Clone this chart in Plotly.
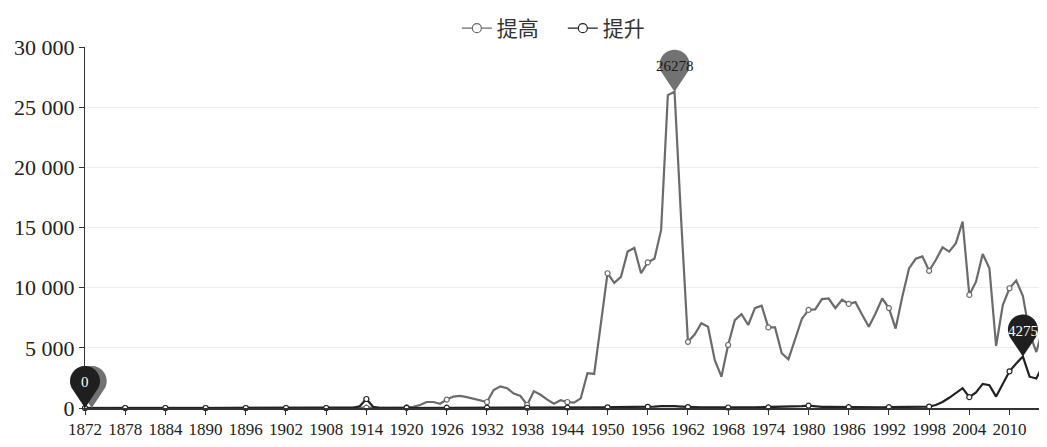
import numpy as np
import plotly.graph_objects as go

years = list(range(1872, 2016))

# 提高 (gray series)
tigao = [
    3, 0, 0, 0, 0, 0, 0, 0,                                  # 1872-1879
    0, 0, 0, 0, 0, 0, 0, 0, 0, 0,                            # 1880-1889
    0, 0, 0, 0, 0, 0, 0, 0, 0, 0,                            # 1890-1899
    0, 0, 0, 0, 0, 5, 0, 0, 0, 0,                            # 1900-1909
    10, 0, 5, 10, 30, 20, 10, 20, 30, 40,                    # 1910-1919
    50, 100, 250, 500, 500, 350, 700, 950, 1000, 900,        # 1920-1929
    750, 650, 500, 1500, 1800, 1650, 1200, 1000, 250, 1400,  # 1930-1939
    1100, 700, 350, 650, 500, 450, 800, 2900, 2830, 7000,    # 1940-1949
    11200, 10400, 10900, 13000, 13300, 11200, 12100, 12400, 14800, 26000,  # 1950-1959
    26278, 15500, 5500, 6100, 7050, 6750, 4000, 2600, 5240, 7300,          # 1960-1969
    7800, 6900, 8300, 8500, 6700, 6700, 4550, 4050, 5650, 7400,            # 1970-1979
    8150, 8200, 9050, 9100, 8300, 9000, 8650, 8800, 7750, 6750,            # 1980-1989
    7850, 9100, 8300, 6600, 9250, 11600, 12400, 12600, 11400, 12300,       # 1990-1999
    13350, 13000, 13700, 15500, 9400, 10500, 12800, 11600, 5150, 8550,     # 2000-2009
    9950, 10600, 9300, 6200, 4650, 6650,                                   # 2010-2015
]

# 提升 (dark series)
tisheng = [
    0, 0, 0, 0, 0, 0, 0, 0,                                  # 1872-1879
    0, 0, 0, 0, 0, 0, 0, 0, 0, 0,                            # 1880-1889
    0, 0, 0, 0, 0, 0, 0, 0, 0, 0,                            # 1890-1899
    0, 0, 0, 0, 0, 0, 0, 0, 0, 0,                            # 1900-1909
    0, 0, 10, 150, 750, 100, 0, 0, 0, 10,                    # 1910-1919
    10, 20, 20, 30, 30, 20, 30, 30, 20, 20,                  # 1920-1929
    20, 30, 30, 40, 30, 30, 20, 20, 20, 30,                  # 1930-1939
    20, 20, 20, 30, 30, 30, 40, 50, 50, 60,                  # 1940-1949
    60, 70, 70, 80, 80, 90, 100, 120, 150, 180,              # 1950-1959
    150, 120, 80, 60, 50, 50, 40, 40, 40, 50,                # 1960-1969
    50, 50, 50, 60, 50, 50, 60, 70, 80, 150,                 # 1970-1979
    200, 120, 100, 90, 80, 80, 70, 70, 60, 60,               # 1980-1989
    60, 60, 70, 70, 70, 80, 80, 100, 120, 250,               # 1990-1999
    500, 850, 1250, 1650, 900, 1300, 2000, 1900, 950, 2000,  # 2000-2009
    3050, 3700, 4275, 2600, 2450, 3550,                      # 2010-2015
]

series = [
    ("提高", tigao, "#6b6b6b", "#727272", "#1a1a1a", "legend"),
    ("提升", tisheng, "#222222", "#1f1f1f", "#ffffff", "legend2"),
]

SERIF = "Liberation Serif, Times New Roman, serif"
CJK = "Noto Sans CJK SC, sans-serif"

XR = [years[0], years[-1]]
YR = [0, 30000]
PIN_R, PIN_CY = 15, 27


def pin_path(r=PIN_R, cy=PIN_CY, n=30):
    # teardrop pin, tip at (0, 0), pixel units (y up)
    a0 = -np.arcsin(r / cy)
    ang = np.linspace(a0, np.pi - a0, n)
    pts = ["M0,0"] + [f"L{r*np.cos(a):.2f},{cy + r*np.sin(a):.2f}" for a in ang]
    return " ".join(pts) + " Z"


fig = go.Figure()
shapes = []
notes = []

for name, vals, col, pin_col, txt_col, leg in series:
    fig.add_trace(go.Scatter(x=years, y=vals, mode="lines", showlegend=False,
                             line=dict(color=col, width=2.2), hoverinfo="skip"))
    fig.add_trace(go.Scatter(x=years[::6], y=vals[::6], mode="markers", showlegend=False,
                             cliponaxis=False,
                             marker=dict(symbol="circle", size=5, color="white",
                                         line=dict(color=col, width=1.2))))
    fig.add_trace(go.Scatter(x=[None], y=[None], mode="lines+markers", name=name, legend=leg,
                             line=dict(color=col, width=1.2),
                             marker=dict(symbol="circle", size=9, color="white",
                                         line=dict(color=col, width=1.2))))

# pins: min and max of each series (gray first so the dark one sits on top)
pins = []
for name, vals, col, pin_col, txt_col, leg in series:
    imin = int(np.argmin(vals))
    imax = int(np.argmax(vals))
    pins.append((years[imin], vals[imin], pin_col, txt_col, name == "提升"))
    pins.append((years[imax], vals[imax], pin_col, txt_col, True))

for x, v, pc, tc, show_label in pins:
    # paper refs so the pins are not clipped at the plot edges
    px = (x - XR[0]) / (XR[1] - XR[0])
    py = (v - YR[0]) / (YR[1] - YR[0])
    shapes.append(dict(type="path", xref="paper", yref="paper", xsizemode="pixel",
                       ysizemode="pixel", xanchor=px, yanchor=py, path=pin_path(),
                       fillcolor=pc, line=dict(width=0), layer="above"))
    if show_label:
        notes.append(dict(x=x, y=v, xref="x", yref="y", text=str(v), showarrow=False,
                          yshift=PIN_CY - 1, font=dict(family=SERIF, size=15, color=tc)))

leg_style = dict(orientation="h", xanchor="left", y=1.0, yanchor="top",
                 xref="container", yref="container", itemwidth=30,
                 font=dict(family=CJK, size=21, color="#333"),
                 bgcolor="rgba(0,0,0,0)")

# page body has an 8px margin, so the figure is sized to fit the window
fig.update_layout(
    width=1039, height=439,
    margin=dict(l=77, r=4, t=39, b=39, autoexpand=False),
    paper_bgcolor="white", plot_bgcolor="white",
    separators=". ",
    shapes=shapes,
    annotations=notes,
    legend=dict(x=0.432, **leg_style),
    legend2=dict(x=0.534, **leg_style),
    xaxis=dict(range=XR, tickvals=years[::6], tickangle=0, automargin=False,
               showgrid=False, zeroline=False, showline=True, linecolor="#333", linewidth=1.5,
               ticks="outside", ticklen=5, tickcolor="#333",
               tickfont=dict(family=SERIF, size=17, color="#222")),
    yaxis=dict(range=YR, dtick=5000, tickformat=",d", automargin=False,
               showgrid=True, gridcolor="#ececec", zeroline=False,
               showline=True, linecolor="#333", linewidth=1.2,
               ticks="outside", ticklen=5, tickcolor="#333",
               tickfont=dict(family=SERIF, size=22, color="#222")),
)

fig.write_html("out.html")
